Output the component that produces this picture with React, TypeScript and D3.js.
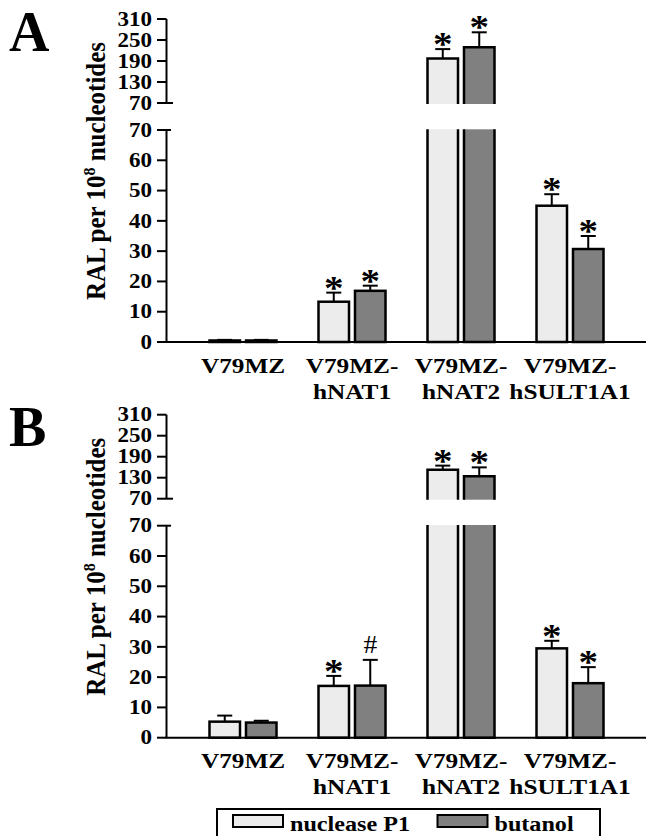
import React from "react";
import * as d3 from "d3";

// ---- data ----
const categories = ["V79MZ", "V79MZ-hNAT1", "V79MZ-hNAT2", "V79MZ-hSULT1A1"];
const catLine1 = ["V79MZ", "V79MZ-", "V79MZ-", "V79MZ-"];
const catLine2 = ["", "hNAT1", "hNAT2", "hSULT1A1"];
const seriesNames = ["nuclease P1", "butanol"];
const seriesColors = ["#ececec", "#808080"];
const lowerTicks = [0, 10, 20, 30, 40, 50, 60, 70];
const upperTicks = [70, 130, 190, 250, 310];

// Panel A
const aNuclease = [0.5, 13.3, 197, 45];
const aNucleaseErr = [0.2, 3.0, 27, 3.8];
const aNucleaseMark = ["", "*", "*", "*"];
const aButanol = [0.5, 16.9, 229, 30.7];
const aButanolErr = [0.2, 1.7, 43, 4.3];
const aButanolMark = ["", "*", "*", "*"];

// Panel B
const bNuclease = [5.3, 17.1, 153, 29.5];
const bNucleaseErr = [2.0, 3.3, 11.5, 2.5];
const bNucleaseMark = ["", "*", "*", "*"];
const bButanol = [5.0, 17.2, 134, 18.0];
const bButanolErr = [0.6, 8.5, 25.5, 5.3];
const bButanolMark = ["", "#", "*", "*"];

const FONT = "'Liberation Serif', 'Times New Roman', serif";
const SX = 1.15;

type PanelProps = {
  dy: number;
  letter: string;
  values: number[][];
  errs: number[][];
  marks: string[][];
};

function Panel({ dy, letter, values, errs, marks }: PanelProps) {
  const axisX = 166.5;
  const xEnd = 646;
  const yLow = d3.scaleLinear().domain([0, 70]).range([342 + dy, 130 + dy]);
  const yUp = d3.scaleLinear().domain([70, 310]).range([103 + dy, 19 + dy]);
  const xc = d3.scalePoint<string>().domain(categories).range([243, 570]);
  const xs = d3.scaleBand<string>().domain(seriesNames).range([-33.5, 33.5]).paddingInner(0.164);
  const bw = xs.bandwidth();
  const yAny = (v: number) => (v > 70 ? yUp(v) : yLow(v));
  const cutLow = yLow(70) - 0.7;
  const cutUp = yUp(70) + 1;

  return (
    <g>
      {/* panel letter */}
      <text x={9} y={50.5 + dy} fontFamily={FONT} fontWeight="bold" fontSize={56}>
        {letter}
      </text>
      {/* y title */}
      <text
        transform={`translate(105,${171 + dy}) rotate(-90) scale(1,1.08)`}
        textAnchor="middle"
        fontFamily={FONT}
        fontWeight="bold"
        fontSize={25}
      >
        RAL per 10
        <tspan fontSize={16} dy={-9}>8</tspan>
        <tspan dy={9}> nucleotides</tspan>
      </text>

      {/* bars */}
      {categories.map((c, ci) =>
        seriesNames.map((s, si) => {
          const v = values[si][ci];
          const e = errs[si][ci];
          const m = marks[si][ci];
          const x0 = (xc(c) as number) + (xs(s) as number);
          const cx = x0 + bw / 2;
          const y0 = yLow(0);
          const top = yAny(v);
          const errTop = yAny(v + e);
          const fill = seriesColors[si];
          const parts: React.ReactNode[] = [];
          if (v <= 70) {
            parts.push(
              <rect key="r" x={x0} y={top} width={bw} height={y0 - top} fill={fill} stroke="#000" strokeWidth={2.5} />
            );
          } else {
            parts.push(
              <rect key="lf" x={x0} y={cutLow} width={bw} height={y0 - cutLow} fill={fill} />,
              <path key="ls" d={`M${x0},${cutLow}L${x0},${y0}L${x0 + bw},${y0}L${x0 + bw},${cutLow}`} fill="none" stroke="#000" strokeWidth={2.5} />,
              <rect key="uf" x={x0} y={top} width={bw} height={cutUp - top} fill={fill} />,
              <path key="us" d={`M${x0},${cutUp}L${x0},${top}L${x0 + bw},${top}L${x0 + bw},${cutUp}`} fill="none" stroke="#000" strokeWidth={2.5} />
            );
          }
          parts.push(
            <line key="ev" x1={cx} x2={cx} y1={top} y2={errTop} stroke="#000" strokeWidth={2} />,
            <line key="ec" x1={cx - 7.5} x2={cx + 7.5} y1={errTop} y2={errTop} stroke="#000" strokeWidth={2} />
          );
          if (m === "*") {
            parts.push(
              <text key="m" transform={`translate(${cx},${errTop + 6}) scale(${SX},1)`} textAnchor="middle" fontFamily={FONT} fontWeight="bold" fontSize={34}>
                *
              </text>
            );
          } else if (m === "#") {
            parts.push(
              <text key="m" transform={`translate(${cx},${errTop - 7}) scale(1.1,1)`} textAnchor="middle" fontFamily={FONT} fontSize={25}>
                #
              </text>
            );
          }
          return <g key={c + s}>{parts}</g>;
        })
      )}

      {/* lower y axis */}
      <line x1={axisX} x2={axisX} y1={yLow(70)} y2={yLow(0)} stroke="#000" strokeWidth={2} />
      {lowerTicks.map((t) => (
        <g key={"l" + t}>
          <line x1={157} x2={t === 70 ? 171 : axisX} y1={yLow(t)} y2={yLow(t)} stroke="#000" strokeWidth={2} />
          <text transform={`translate(152,${yLow(t) + 6.7}) scale(${SX},1)`} textAnchor="end" fontFamily={FONT} fontWeight="bold" fontSize={20}>
            {t}
          </text>
        </g>
      ))}
      {/* upper y axis */}
      <line x1={axisX} x2={axisX} y1={yUp(310)} y2={yUp(70)} stroke="#000" strokeWidth={2} />
      {upperTicks.map((t) => (
        <g key={"u" + t}>
          <line x1={157} x2={t === 70 ? 173 : axisX} y1={yUp(t)} y2={yUp(t)} stroke="#000" strokeWidth={2} />
          <text transform={`translate(152,${yUp(t) + 6.7}) scale(${SX},1)`} textAnchor="end" fontFamily={FONT} fontWeight="bold" fontSize={20}>
            {t}
          </text>
        </g>
      ))}
      {/* x axis */}
      <line x1={axisX - 1} x2={xEnd} y1={yLow(0)} y2={yLow(0)} stroke="#000" strokeWidth={2} />
      {categories.map((c, ci) => (
        <g key={"cl" + c}>
          <text transform={`translate(${xc(c)},${yLow(0) + 30.5}) scale(${SX},1)`} textAnchor="middle" fontFamily={FONT} fontWeight="bold" fontSize={22}>
            {catLine1[ci]}
          </text>
          {catLine2[ci] && (
            <text transform={`translate(${xc(c)},${yLow(0) + 56.5}) scale(${SX},1)`} textAnchor="middle" fontFamily={FONT} fontWeight="bold" fontSize={22}>
              {catLine2[ci]}
            </text>
          )}
        </g>
      ))}
    </g>
  );
}

export default function App() {
  return (
    <svg width={648} height={836} style={{ position: "absolute", left: 0, top: 0, background: "#fff" }}>
      <rect x={0} y={0} width={648} height={836} fill="#fff" />
      <Panel
        dy={0}
        letter="A"
        values={[aNuclease, aButanol]}
        errs={[aNucleaseErr, aButanolErr]}
        marks={[aNucleaseMark, aButanolMark]}
      />
      <Panel
        dy={395.7}
        letter="B"
        values={[bNuclease, bButanol]}
        errs={[bNucleaseErr, bButanolErr]}
        marks={[bNucleaseMark, bButanolMark]}
      />
      {/* legend */}
      <rect x={217} y={809} width={383} height={50} fill="none" stroke="#000" strokeWidth={2} />
      {seriesNames.map((s, i) => {
        const sx = i === 0 ? 233 : 437.5;
        return (
          <g key={s}>
            <rect x={sx} y={815} width={50} height={12} fill={seriesColors[i]} stroke="#000" strokeWidth={2} />
            <text transform={`translate(${sx + 57},831) scale(${SX},1)`} fontFamily={FONT} fontWeight="bold" fontSize={21}>
              {s}
            </text>
          </g>
        );
      })}
    </svg>
  );
}
